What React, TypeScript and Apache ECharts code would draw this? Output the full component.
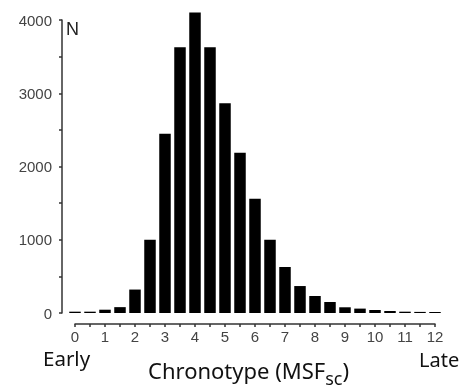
import React, { useEffect, useRef } from "react";
import * as echarts from "echarts";

const binCenters = [0, 0.5, 1, 1.5, 2, 2.5, 3, 3.5, 4, 4.5, 5, 5.5, 6, 6.5, 7, 7.5, 8, 8.5, 9, 9.5, 10, 10.5, 11, 11.5, 12];
const counts = [18, 18, 45, 80, 320, 1000, 2447, 3629, 4102, 3629, 2865, 2188, 1560, 1000, 628, 368, 232, 150, 78, 60, 41, 27, 18, 15, 14];

export default function App() {
  const ref = useRef<HTMLDivElement>(null);
  useEffect(() => {
    if (!ref.current) return;
    const chart = echarts.init(ref.current, null, { renderer: "svg" });
    const labelFont = "Liberation Sans, Arial, sans-serif";
    const textFont = "Noto Sans, sans-serif";
    chart.setOption({
      animation: false,
      grid: [
        { left: 62, width: 378, top: 20, bottom: 79 },
        { left: 75, width: 360, top: 20, bottom: 79 },
      ],
      xAxis: [
        { type: "value", gridIndex: 0, min: -13 / 30, max: 365 / 30, show: false },
        {
          type: "value",
          gridIndex: 1,
          min: 0,
          max: 12,
          interval: 1,
          offset: 11,
          axisLine: { show: true, onZero: false, lineStyle: { color: "#333", width: 1.5 } },
          axisTick: { show: true, length: 3, lineStyle: { color: "#333", width: 1.5 } },
          minorTick: { show: true, splitNumber: 2, length: 3, lineStyle: { color: "#333", width: 1.5 } },
          axisLabel: { margin: 5, color: "#444", fontSize: 15, fontFamily: labelFont },
          splitLine: { show: false },
        },
      ],
      yAxis: [
        {
          type: "value",
          gridIndex: 0,
          min: 0,
          max: 4000,
          interval: 1000,
          axisLine: { show: true, onZero: false, lineStyle: { color: "#333", width: 1.5 } },
          axisTick: { show: true, length: 3, lineStyle: { color: "#333", width: 1.5 } },
          minorTick: { show: true, splitNumber: 2, length: 3, lineStyle: { color: "#333", width: 1.5 } },
          axisLabel: { margin: 10, color: "#444", fontSize: 15, fontFamily: labelFont, formatter: (v: number) => String(v) },
          splitLine: { show: false },
        },
        { type: "value", gridIndex: 1, min: 0, max: 4000, show: false },
      ],
      series: [
        {
          type: "bar",
          clip: false,
          barWidth: 11.5,
          itemStyle: { color: "#000" },
          data: binCenters.map((x, i) => [x, counts[i]]),
        },
      ],
      graphic: [
        { type: "text", left: 66, top: 20, style: { text: "N", fontSize: 18, fill: "#222", fontFamily: labelFont } },
        { type: "text", left: 43, top: 347, style: { text: "Early", fontSize: 20.5, fill: "#111", fontFamily: textFont } },
        { type: "text", left: 419, top: 349, style: { text: "Late", fontSize: 20, fill: "#111", fontFamily: textFont } },
        {
          type: "text",
          left: 148,
          top: 359,
          style: {
            text: "{a|Chronotype (MSF}{s|sc}{a|)}",
            rich: {
              a: { fontSize: 22, fontFamily: textFont, fill: "#111" },
              s: { fontSize: 18, fontFamily: textFont, fill: "#111", padding: [15, 0, 0, 0] },
            },
          },
        },
      ],
    });
    return () => chart.dispose();
  }, []);
  return <div ref={ref} style={{ position: "fixed", left: 0, top: 0, width: 461, height: 392 }} />;
}
